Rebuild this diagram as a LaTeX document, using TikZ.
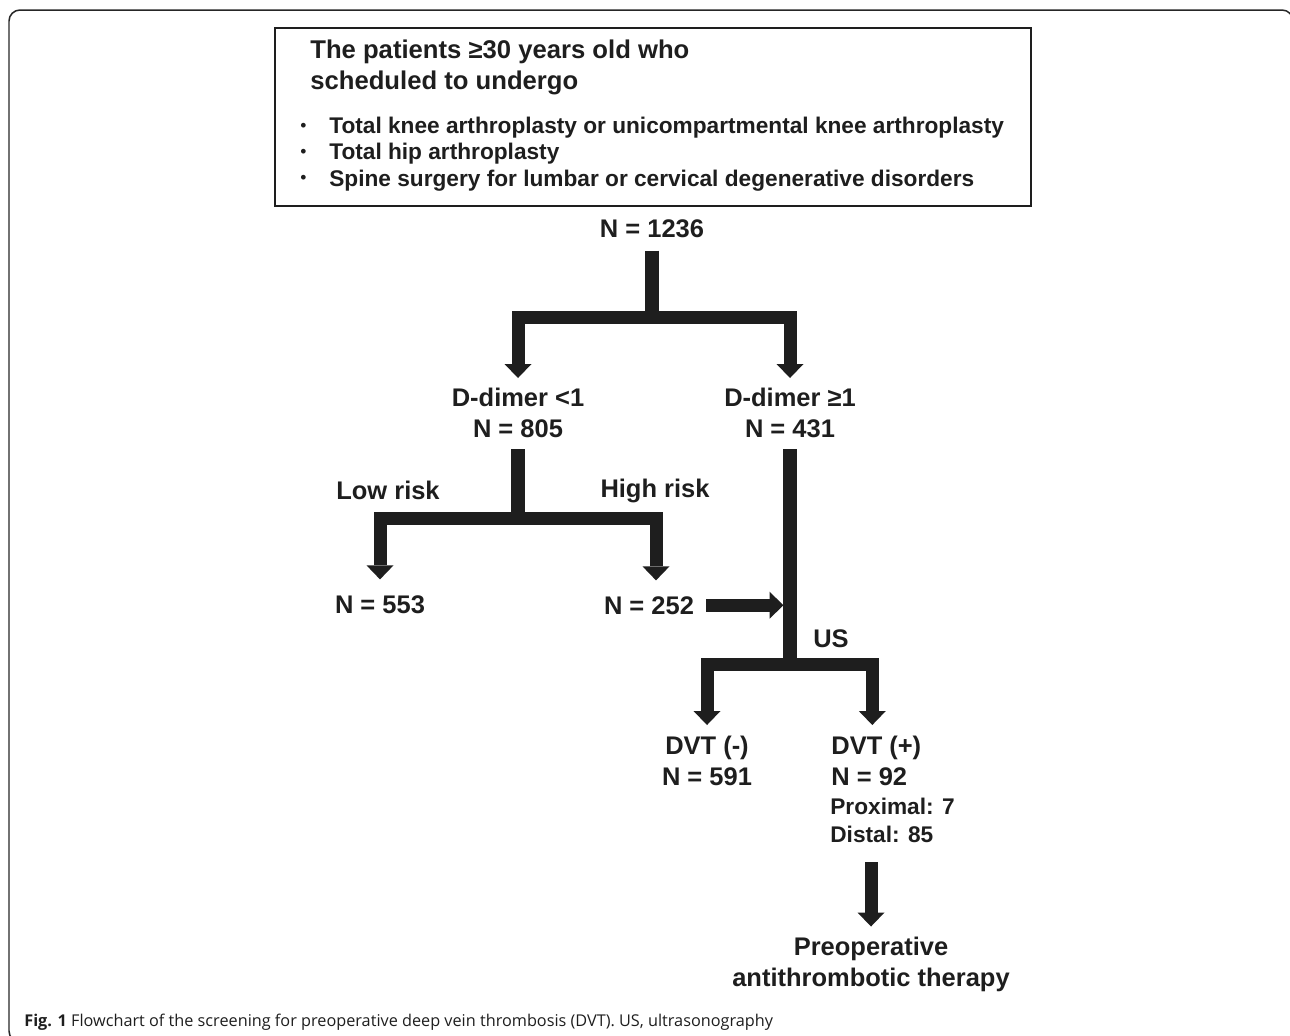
\documentclass[tikz,border=0pt]{standalone}
\usepackage{fontspec}
\setmainfont{Liberation Sans}
\newfontfamily\capfont{Open Sans}
\usetikzlibrary{arrows.meta}
\definecolor{ink}{HTML}{1E1E1E}
\newcommand{\itemdot}{\makebox[0.58cm][l]{\raisebox{0.12em}{\mdseries\fontsize{10}{10}\selectfont\textbullet}}}
\begin{document}
\begin{tikzpicture}[x=0.02cm, y=-0.02cm,
    frame/.style ={draw=black!85, line width=0.03cm, rounded corners=0.22cm},
    inclusion/.style ={draw=ink, line width=0.04cm, minimum width=15.12cm, minimum height=3.56cm, inner sep=0pt, anchor=north west},
    count/.style ={inner sep=0pt, text=ink, align=center, font=\bfseries\fontsize{14.5}{17.6}\selectfont},
    detail/.style ={inner sep=0pt, text=ink, align=left, font=\bfseries\fontsize{12.9}{15.9}\selectfont},
    trunk/.style ={draw=ink, line width=0.28cm},
    branch/.style ={draw=ink, line width=0.26cm, -{Triangle[width=0.54cm, length=0.28cm, line width=0pt]}}]
   \useasboundingbox (0,0) rectangle (1290,1035);
   \clip (0,0) rectangle (1290,1035);
   \draw[frame] (9,10) rectangle (1293,1042);

   \node[inclusion] (incl) at (274,27) {};
   \node[count, align=left, anchor=north west, font=\bfseries\fontsize{14.6}{17.5}\selectfont] (who) at (310,40)
      {The patients ≥30 years old who\\scheduled to undergo};
   \node[detail, anchor=north west, font=\bfseries\fontsize{12.9}{14.9}\selectfont] (surgery) at (300,117)
      {\itemdot Total knee arthroplasty or unicompartmental knee arthroplasty\\
       \itemdot Total hip arthroplasty\\
       \itemdot Spine surgery for lumbar or cervical degenerative disorders};

   \node[count, anchor=base] (total) at (652,237) {N = 1236};
   \node[count, anchor=north] (dlow) at (518,388) {D-dimer <1\\N = 805};
   \node[count, anchor=north] (dhigh) at (790,388) {D-dimer ≥1\\N = 431};
   \node[count, anchor=base] (lowrisk) at (388,499) {Low risk};
   \node[count, anchor=base] (highrisk) at (655,497) {High risk};
   \node[count, anchor=base] (n553) at (380,613) {N = 553};
   \node[count, anchor=base] (n252) at (649,614) {N = 252};
   \node[count, anchor=base] (us) at (831,647) {US};
   \node[count, anchor=north] (dvtneg) at (707,736) {DVT (-)\\N = 591};
   \node[count, anchor=north west, align=left] (dvtpos) at (831,736) {DVT (+)\\N = 92};
   \node[detail, anchor=north west] (site) at (830,798) {Proximal: 7\\Distal: 85};
   \node[count, anchor=north] (therapy) at (871,937) {Preoperative\\antithrombotic therapy};
   \node[anchor=base west, inner sep=0pt, text=ink, font=\capfont\fontsize{9.25}{11}\selectfont] (caption) at (24,1026)
      {\textbf{Fig. 1} Flowchart of the screening for preoperative deep vein thrombosis (DVT). US, ultrasonography};

   \coordinate (split1) at (652,317);
   \coordinate (split2) at (518,518);
   \coordinate (split3) at (790,664);

   \draw[trunk, shorten <=0.26cm] (total.south) to (split1);
   \draw[branch, shorten >=0.2cm] (split1) -| (dlow.north);
   \draw[branch, shorten >=0.2cm] (split1) -| (dhigh.north);

   \draw[trunk, shorten <=0.22cm] (dlow.south) to (split2);
   \draw[branch, shorten >=0.31cm] (split2) -| (n553.north);
   \draw[branch, shorten >=0.31cm] (split2) -| ([xshift=0.14cm]n252.north);

   \draw[trunk, shorten <=0.22cm] (dhigh.south) to (split3);
   \draw[branch, shorten <=0.24cm, shorten >=0.13cm] (n252.east) to (n252.east -| split3);
   \draw[branch, shorten >=0.22cm] (split3) -| (dvtneg.north);
   \draw[branch, shorten >=0.22cm] (split3) -| ([xshift=-0.08cm]dvtpos.north);
   \draw[branch, shorten <=0.38cm, shorten >=0.21cm] (site.south -| therapy.north) to (therapy.north);
 \end{tikzpicture}
\end{document}
